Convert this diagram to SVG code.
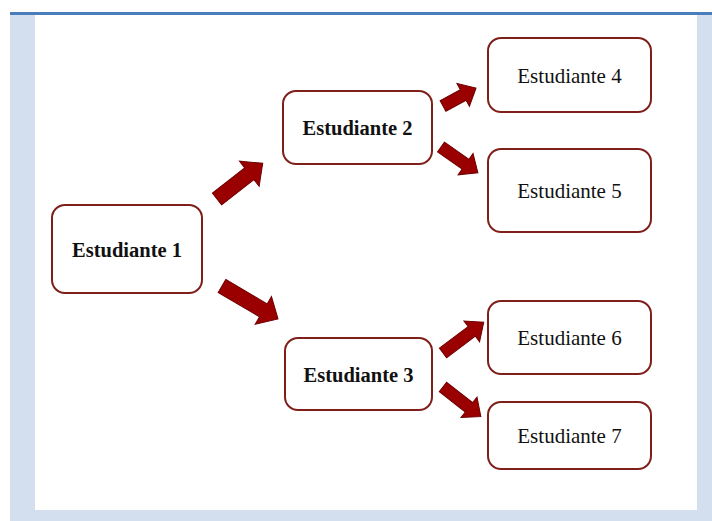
<svg xmlns="http://www.w3.org/2000/svg" width="712" height="521" viewBox="0 0 712 521">
<style>
.box{fill:#ffffff;stroke:#7f1f1a;stroke-width:2}
.lb{font-family:"Liberation Serif","Times New Roman",serif;font-size:21px;fill:#111;text-anchor:middle;dominant-baseline:central}
.b{font-weight:bold;font-size:20.5px}
.arr{fill:#9a0000;stroke:#6e0000;stroke-width:1;stroke-linejoin:miter}
</style>
<rect x="10" y="15" width="702" height="506" fill="#d3dfef"/>
<rect x="35" y="15" width="662" height="495" fill="#ffffff"/>
<rect x="10" y="12" width="702" height="3" fill="#4a7ebb"/>
<g id="connectors">
<path class="arr" transform="translate(217,199) rotate(-38)" d="M0,-7.5 L41,-7.5 L41,-16 L58,0 L41,16 L41,7.5 L0,7.5 Z"/>
<path class="arr" transform="translate(222,286) rotate(30.5)" d="M0,-7.5 L48,-7.5 L48,-16 L65,0 L48,16 L48,7.5 L0,7.5 Z"/>
<path class="arr" transform="translate(443,106) rotate(-28.6)" d="M0,-6 L23,-6 L23,-13 L37.6,0 L23,13 L23,6 L0,6 Z"/>
<path class="arr" transform="translate(441,147) rotate(35)" d="M0,-6 L30,-6 L30,-13 L45,0 L30,13 L30,6 L0,6 Z"/>
<path class="arr" transform="translate(443,353) rotate(-37)" d="M0,-6 L36,-6 L36,-13 L51,0 L36,13 L36,6 L0,6 Z"/>
<path class="arr" transform="translate(443,387) rotate(38)" d="M0,-6 L33,-6 L33,-13 L48,0 L33,13 L33,6 L0,6 Z"/>
</g>
<g id="n1"><rect class="box" x="52" y="205" width="150" height="88" rx="13"/><text class="lb b" x="127" y="250">Estudiante 1</text></g>
<g id="n2"><rect class="box" x="283" y="91" width="149" height="73" rx="13"/><text class="lb b" x="357.5" y="128">Estudiante 2</text></g>
<g id="n3"><rect class="box" x="285" y="338" width="147" height="72" rx="13"/><text class="lb b" x="358.5" y="375">Estudiante 3</text></g>
<g id="n4"><rect class="box" x="488" y="38" width="163" height="74" rx="13"/><text class="lb" x="569.5" y="76">Estudiante 4</text></g>
<g id="n5"><rect class="box" x="488" y="149" width="163" height="83" rx="13"/><text class="lb" x="569.5" y="191">Estudiante 5</text></g>
<g id="n6"><rect class="box" x="488" y="301" width="163" height="73" rx="13"/><text class="lb" x="569.5" y="338">Estudiante 6</text></g>
<g id="n7"><rect class="box" x="488" y="402" width="163" height="67" rx="13"/><text class="lb" x="569.5" y="436">Estudiante 7</text></g>
</svg>
